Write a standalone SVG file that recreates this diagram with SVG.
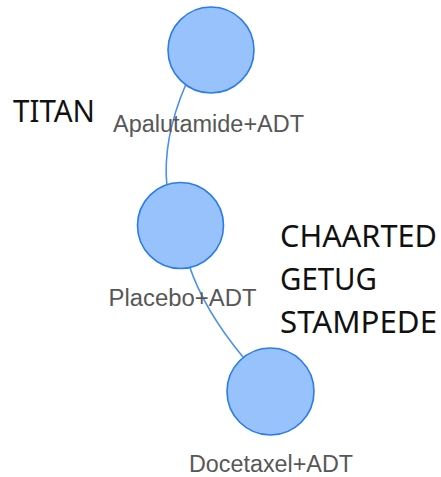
<svg xmlns="http://www.w3.org/2000/svg" width="441" height="477" viewBox="0 0 441 477">
<style>
.node{fill:#97C2FC;stroke:#2B7CE9;stroke-width:1.6}
.edge{fill:none;stroke:#4C8FEF;stroke-width:1.6}
.lbl{font-family:"Liberation Sans",Arial,sans-serif;font-size:23.5px;fill:#575757;text-anchor:middle}
.big{font-family:"Noto Sans","Liberation Sans",sans-serif;font-size:30.5px;fill:#111}
</style>
<rect width="441" height="477" fill="#fff"/>
<g id="edges">
<path class="edge" d="M186,84 Q162,140 167,187"/>
<path class="edge" d="M189,265 Q204,310 243,357"/>
</g>
<g id="node-apalutamide">
<circle class="node" cx="211" cy="50" r="43"/>
<text class="lbl" x="208.5" y="132" textLength="191" lengthAdjust="spacingAndGlyphs">Apalutamide+ADT</text>
</g>
<g id="node-placebo">
<circle class="node" cx="180.5" cy="225.5" r="43"/>
<text class="lbl" x="182.5" y="306" textLength="148" lengthAdjust="spacingAndGlyphs">Placebo+ADT</text>
</g>
<g id="node-docetaxel">
<circle class="node" cx="270.5" cy="391.5" r="43.5"/>
<text class="lbl" x="271" y="472" textLength="164" lengthAdjust="spacingAndGlyphs">Docetaxel+ADT</text>
</g>
<g id="trial-labels">
<text class="big" x="13" y="122" textLength="82" lengthAdjust="spacingAndGlyphs">TITAN</text>
<text class="big" x="280" y="247" textLength="157" lengthAdjust="spacingAndGlyphs">CHAARTED</text>
<text class="big" x="280" y="290" textLength="97" lengthAdjust="spacingAndGlyphs">GETUG</text>
<text class="big" x="280" y="333" textLength="157" lengthAdjust="spacingAndGlyphs">STAMPEDE</text>
</g>
</svg>
